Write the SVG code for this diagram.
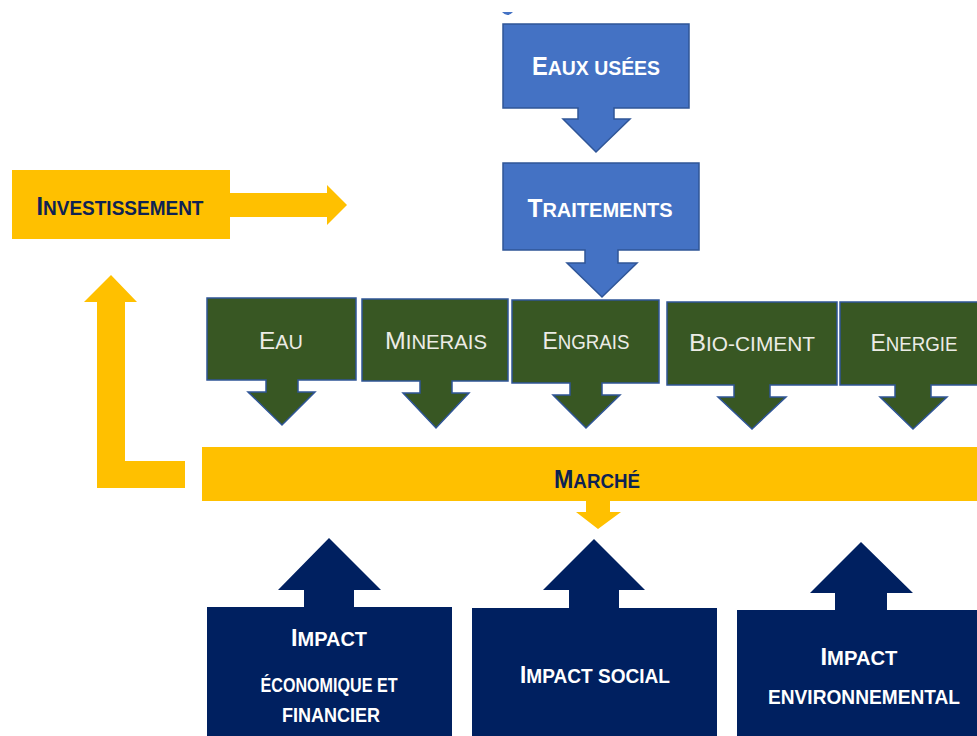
<svg xmlns="http://www.w3.org/2000/svg" width="977" height="736" viewBox="0 0 977 736">
<style>
.blue{fill:#4472C4;stroke:#2F5597;stroke-width:1.5}
.green{fill:#385723;stroke:#2F5597;stroke-width:1.5}
.yellow{fill:#FFC000}
.navy{fill:#002060}
text{font-family:"Liberation Sans",Arial,sans-serif;text-anchor:middle}
.tb{fill:#FFFFFF;font-weight:bold;font-size:20.5px}
.tb .c{font-size:25px}
.tg{fill:#ECECE6;font-size:20px}
.tg .c{font-size:24.5px}
.ty{fill:#0E2253;font-weight:bold;font-size:21px}
.ty .c{font-size:26px}
.tn{fill:#FFFFFF;font-weight:bold;font-size:19.5px}
.tn .c{font-size:23px}
</style>
<rect width="977" height="736" fill="#FFFFFF"/>
<path d="M502,12 Q507.5,18 513,12 Z" fill="#4472C4"/>

<g id="eaux-usees">
<path class="blue" d="M503,24 H689 V108 H614 V119 H630 L596,152 L563,119 H578 V108 H503 Z"/>
<text class="tb" x="596" y="75" textLength="128" lengthAdjust="spacingAndGlyphs"><tspan class="c">E</tspan>AUX USÉES</text>
</g>

<g id="traitements">
<path class="blue" d="M503,163 H699 V250 H618 V263 H637 L602,297 L567,263 H585 V250 H503 Z"/>
<text class="tb" x="600" y="217" textLength="145" lengthAdjust="spacingAndGlyphs"><tspan class="c">T</tspan>RAITEMENTS</text>
</g>

<g id="investissement">
<rect class="yellow" x="12" y="170" width="218" height="69"/>
<text class="ty" x="120" y="215" textLength="167" lengthAdjust="spacingAndGlyphs"><tspan class="c">I</tspan>NVESTISSEMENT</text>
</g>

<g id="eau">
<path class="green" d="M207,298 H356 V380 H298 V392 H315 L282,425 L248,392 H266 V380 H207 Z"/>
<text class="tg" x="281" y="349" textLength="44" lengthAdjust="spacingAndGlyphs"><tspan class="c">E</tspan>AU</text>
</g>
<g id="minerais">
<path class="green" d="M362,299 H508 V381 H452 V393 H469 L436,428 L403,393 H420 V381 H362 Z"/>
<text class="tg" x="436" y="349" textLength="102" lengthAdjust="spacingAndGlyphs"><tspan class="c">M</tspan>INERAIS</text>
</g>
<g id="engrais">
<path class="green" d="M512,300 H659 V383 H602 V395 H620 L586,428 L553,395 H570 V383 H512 Z"/>
<text class="tg" x="586" y="349" textLength="87" lengthAdjust="spacingAndGlyphs"><tspan class="c">E</tspan>NGRAIS</text>
</g>
<g id="bio-ciment">
<path class="green" d="M667,302 H837 V385 H770 V397 H786 L752,429 L718,397 H734 V385 H667 Z"/>
<text class="tg" x="752" y="351" textLength="126" lengthAdjust="spacingAndGlyphs"><tspan class="c">B</tspan>IO-CIMENT</text>
</g>
<g id="energie">
<path class="green" d="M840,302 H985 V385 H931 V397 H947 L913,429 L880,397 H895 V385 H840 Z"/>
<text class="tg" x="914" y="351" textLength="87" lengthAdjust="spacingAndGlyphs"><tspan class="c">E</tspan>NERGIE</text>
</g>

<g id="marche">
<path class="yellow" d="M202,447 H985 V501 H610 V512 H621 L598,529 L576,512 H586 V501 H202 Z"/>
<text class="ty" x="597" y="488" textLength="86" lengthAdjust="spacingAndGlyphs"><tspan class="c">M</tspan>ARCHÉ</text>
</g>

<g id="connectors">
<path class="yellow" d="M97,488 V302 H84 L111,275 L137,302 H125 V461 H185 V488 Z"/>
<path class="yellow" d="M230,193 H327 V185 L347,205 L327,225 V217 H230 Z"/>
</g>

<g id="impact-economique">
<path class="navy" d="M207,607 H304 V590 H278 L329,538 L381,590 H354 V607 H452 V740 H207 Z"/>
<text class="tn" x="329" y="646" textLength="76" lengthAdjust="spacingAndGlyphs"><tspan class="c">I</tspan>MPACT</text>
<text class="tn" x="329" y="692" textLength="137" lengthAdjust="spacingAndGlyphs">ÉCONOMIQUE ET</text>
<text class="tn" x="331" y="722" textLength="98" lengthAdjust="spacingAndGlyphs">FINANCIER</text>
</g>
<g id="impact-social">
<path class="navy" d="M472,608 H569 V590 H543 L594,539 L645,590 H619 V608 H717 V740 H472 Z"/>
<text class="tn" x="595" y="683" textLength="150" lengthAdjust="spacingAndGlyphs"><tspan class="c">I</tspan>MPACT SOCIAL</text>
</g>
<g id="impact-environnemental">
<path class="navy" d="M737,610 H835 V593 H810 L861,542 L913,593 H887 V610 H985 V740 H737 Z"/>
<text class="tn" x="859" y="665" textLength="77" lengthAdjust="spacingAndGlyphs"><tspan class="c">I</tspan>MPACT</text>
<text class="tn" x="864" y="704" textLength="192" lengthAdjust="spacingAndGlyphs">ENVIRONNEMENTAL</text>
</g>
</svg>
